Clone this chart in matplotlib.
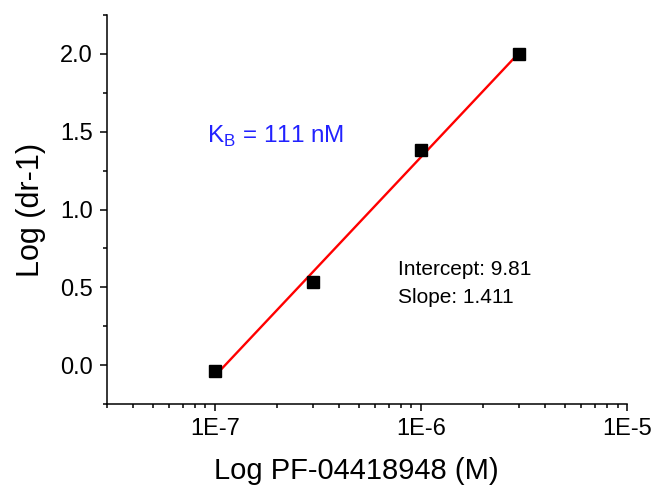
import numpy as np
import matplotlib.pyplot as plt
from matplotlib.ticker import LogLocator, MultipleLocator

plt.rcParams['font.family'] = ['Liberation Sans', 'DejaVu Sans']

# -------------------------------
# Data
# -------------------------------
conc = [1e-7, 3e-7, 1e-6, 3e-6]          # PF-04418948 (M)
log_dr = [-0.04, 0.534, 1.38, 2.0]        # Log (dr-1)

# linear fit in log space
slope, intercept = np.polyfit(np.log10(conc), log_dr, 1)
fit_x = np.array([conc[0], conc[-1]])
fit_y = intercept + slope * np.log10(fit_x)

# -------------------------------
# Figure
# -------------------------------
fig = plt.figure(figsize=(6.56, 4.87), dpi=100)
ax = fig.add_axes([0.1631, 0.1704, 0.7927, 0.7988])

ax.plot(fit_x, fit_y, color='red', lw=1.7, zorder=2)
ax.plot(conc, log_dr, 's', color='black', ms=8.5, zorder=3)

ax.set_xscale('log')
ax.set_xlim(3e-8, 1e-5)
ax.set_ylim(-0.25, 2.25)
ax.set_xticks([1e-7, 1e-6, 1e-5])
ax.set_xticklabels(['1E-7', '1E-6', '1E-5'])
ax.xaxis.set_minor_locator(LogLocator(base=10, subs=np.arange(2, 10)))
ax.xaxis.set_minor_formatter(plt.NullFormatter())
ax.yaxis.set_major_locator(MultipleLocator(0.5))
ax.yaxis.set_minor_locator(MultipleLocator(0.25))
ax.yaxis.set_major_formatter(plt.FormatStrFormatter('%.1f'))

for s in ['top', 'right']:
    ax.spines[s].set_visible(False)
for s in ['left', 'bottom']:
    ax.spines[s].set_linewidth(1.1)

ax.tick_params(which='major', direction='out', length=5, width=1.1,
               labelsize=17, pad=5)
ax.tick_params(which='minor', direction='out', length=2.8, width=1.1)

ax.set_xlabel('Log PF-04418948 (M)', fontsize=21, labelpad=12)
ax.xaxis.set_label_coords(0.479, -0.135)
ax.set_ylabel('Log (dr-1)', fontsize=22, labelpad=10)

ax.text(0.192, 0.671, r'K$_\mathregular{B}$ = 111 nM', transform=ax.transAxes,
        color='#2222ff', fontsize=17.5, va='baseline')
ax.text(0.56, 0.332, 'Intercept: 9.81', transform=ax.transAxes,
        fontsize=15, va='baseline')
ax.text(0.56, 0.260, 'Slope: 1.411', transform=ax.transAxes,
        fontsize=15, va='baseline')

fig.savefig('out.png', dpi=100)
